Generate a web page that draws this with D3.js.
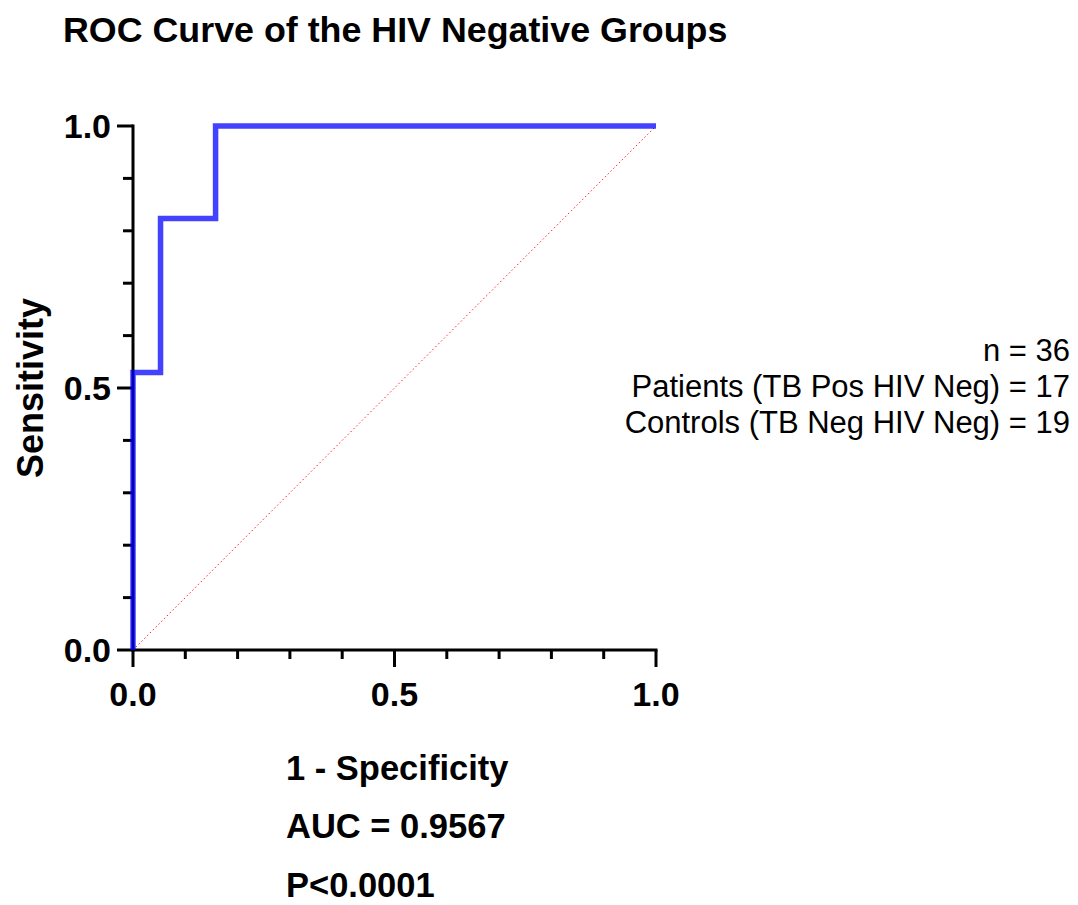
<!DOCTYPE html>
<html>
<head>
<meta charset="utf-8">
<script src="https://cdn.jsdelivr.net/npm/d3@7"></script>
<style>
  html, body { margin: 0; padding: 0; background: #fff; }
  svg { display: block; font-family: "Liberation Sans", Arial, sans-serif; }
</style>
</head>
<body>
<svg id="chart" width="1078" height="905"></svg>
<script>
// ROC curve points (1 - specificity, sensitivity)
const fpr = [0, 0, 1/19, 1/19, 3/19, 3/19, 1];
const tpr = [0, 9/17, 9/17, 14/17, 14/17, 1, 1];

const majorTicks = [0, 0.5, 1];
const minorTicks = [0.1, 0.2, 0.3, 0.4, 0.6, 0.7, 0.8, 0.9];
const tickLabels = ["0.0", "0.5", "1.0"];

const title = "ROC Curve of the HIV Negative Groups";
const xTitle = "1 - Specificity";
const yTitle = "Sensitivity";
const statLines = ["AUC = 0.9567", "P<0.0001"];
const legendLines = ["n = 36", "Patients (TB Pos HIV Neg) = 17", "Controls (TB Neg HIV Neg) = 19"];

(function () {
  const svg = d3.select("#chart");
  const plotLeft = 133, plotRight = 656, plotTop = 126, plotBottom = 650;

  const x = d3.scaleLinear().domain([0, 1]).range([plotLeft, plotRight]);
  const y = d3.scaleLinear().domain([0, 1]).range([plotBottom, plotTop]);

  // Title
  svg.append("text")
    .attr("x", 63).attr("y", 42)
    .attr("font-size", 35.8).attr("font-weight", "bold")
    .text(title);

  // Reference diagonal
  svg.append("line")
    .attr("x1", x(0)).attr("y1", y(0))
    .attr("x2", x(1)).attr("y2", y(1))
    .attr("stroke", "#ff2020").attr("stroke-width", 1)
    .attr("stroke-dasharray", "1.5,2.5");

  // Axes
  const axisG = svg.append("g").attr("stroke", "#000").attr("stroke-width", 3).attr("fill", "none");
  axisG.append("line").attr("x1", x(0)).attr("x2", x(0)).attr("y1", y(1) - 1.5).attr("y2", y(0) + 1.5);
  axisG.append("line").attr("x1", x(0) - 1.5).attr("x2", x(1) + 1.5).attr("y1", y(0)).attr("y2", y(0));

  // Y ticks
  axisG.selectAll(".ymaj").data(majorTicks).join("line").attr("class", "ymaj")
    .attr("x1", plotLeft - 16).attr("x2", plotLeft).attr("y1", d => y(d)).attr("y2", d => y(d));
  axisG.selectAll(".ymin").data(minorTicks).join("line").attr("class", "ymin")
    .attr("x1", plotLeft - 10).attr("x2", plotLeft).attr("y1", d => y(d)).attr("y2", d => y(d));

  // X ticks
  axisG.selectAll(".xmaj").data(majorTicks).join("line").attr("class", "xmaj")
    .attr("x1", d => x(d)).attr("x2", d => x(d)).attr("y1", plotBottom).attr("y2", plotBottom + 17);
  axisG.selectAll(".xmin").data(minorTicks).join("line").attr("class", "xmin")
    .attr("x1", d => x(d)).attr("x2", d => x(d)).attr("y1", plotBottom).attr("y2", plotBottom + 9);

  // Tick labels
  svg.selectAll(".ylab").data(majorTicks).join("text").attr("class", "ylab")
    .attr("x", plotLeft - 22).attr("y", d => y(d)).attr("dy", "0.35em")
    .attr("text-anchor", "end").attr("font-size", 34).attr("font-weight", "bold")
    .text((d, i) => tickLabels[i]);
  svg.selectAll(".xlab").data(majorTicks).join("text").attr("class", "xlab")
    .attr("x", d => x(d)).attr("y", 706)
    .attr("text-anchor", "middle").attr("font-size", 34).attr("font-weight", "bold")
    .text((d, i) => tickLabels[i]);

  // ROC curve
  const line = d3.line().x(d => x(d[0])).y(d => y(d[1]));
  svg.append("path")
    .datum(d3.zip(fpr, tpr))
    .attr("d", line)
    .attr("fill", "none")
    .attr("stroke", "#0000ff").attr("stroke-opacity", 0.74)
    .attr("stroke-width", 5.5)
    .attr("stroke-linejoin", "miter").attr("stroke-linecap", "butt");

  // Axis titles
  svg.append("text")
    .attr("transform", `translate(43, ${y(0.5)}) rotate(-90)`)
    .attr("text-anchor", "middle").attr("font-size", 36).attr("font-weight", "bold")
    .text(yTitle);
  svg.append("text")
    .attr("x", 286).attr("y", 780)
    .attr("font-size", 34.5).attr("font-weight", "bold")
    .text(xTitle);
  svg.selectAll(".stat").data(statLines).join("text").attr("class", "stat")
    .attr("x", 286).attr("y", (d, i) => 838 + i * 59)
    .attr("font-size", 34.5).attr("font-weight", "bold")
    .text(d => d);

  // Sample sizes
  svg.selectAll(".legend").data(legendLines).join("text").attr("class", "legend")
    .attr("x", 1070).attr("y", (d, i) => 361 + i * 36)
    .attr("text-anchor", "end").attr("font-size", 31)
    .text(d => d);
})();
</script>
</body>
</html>
